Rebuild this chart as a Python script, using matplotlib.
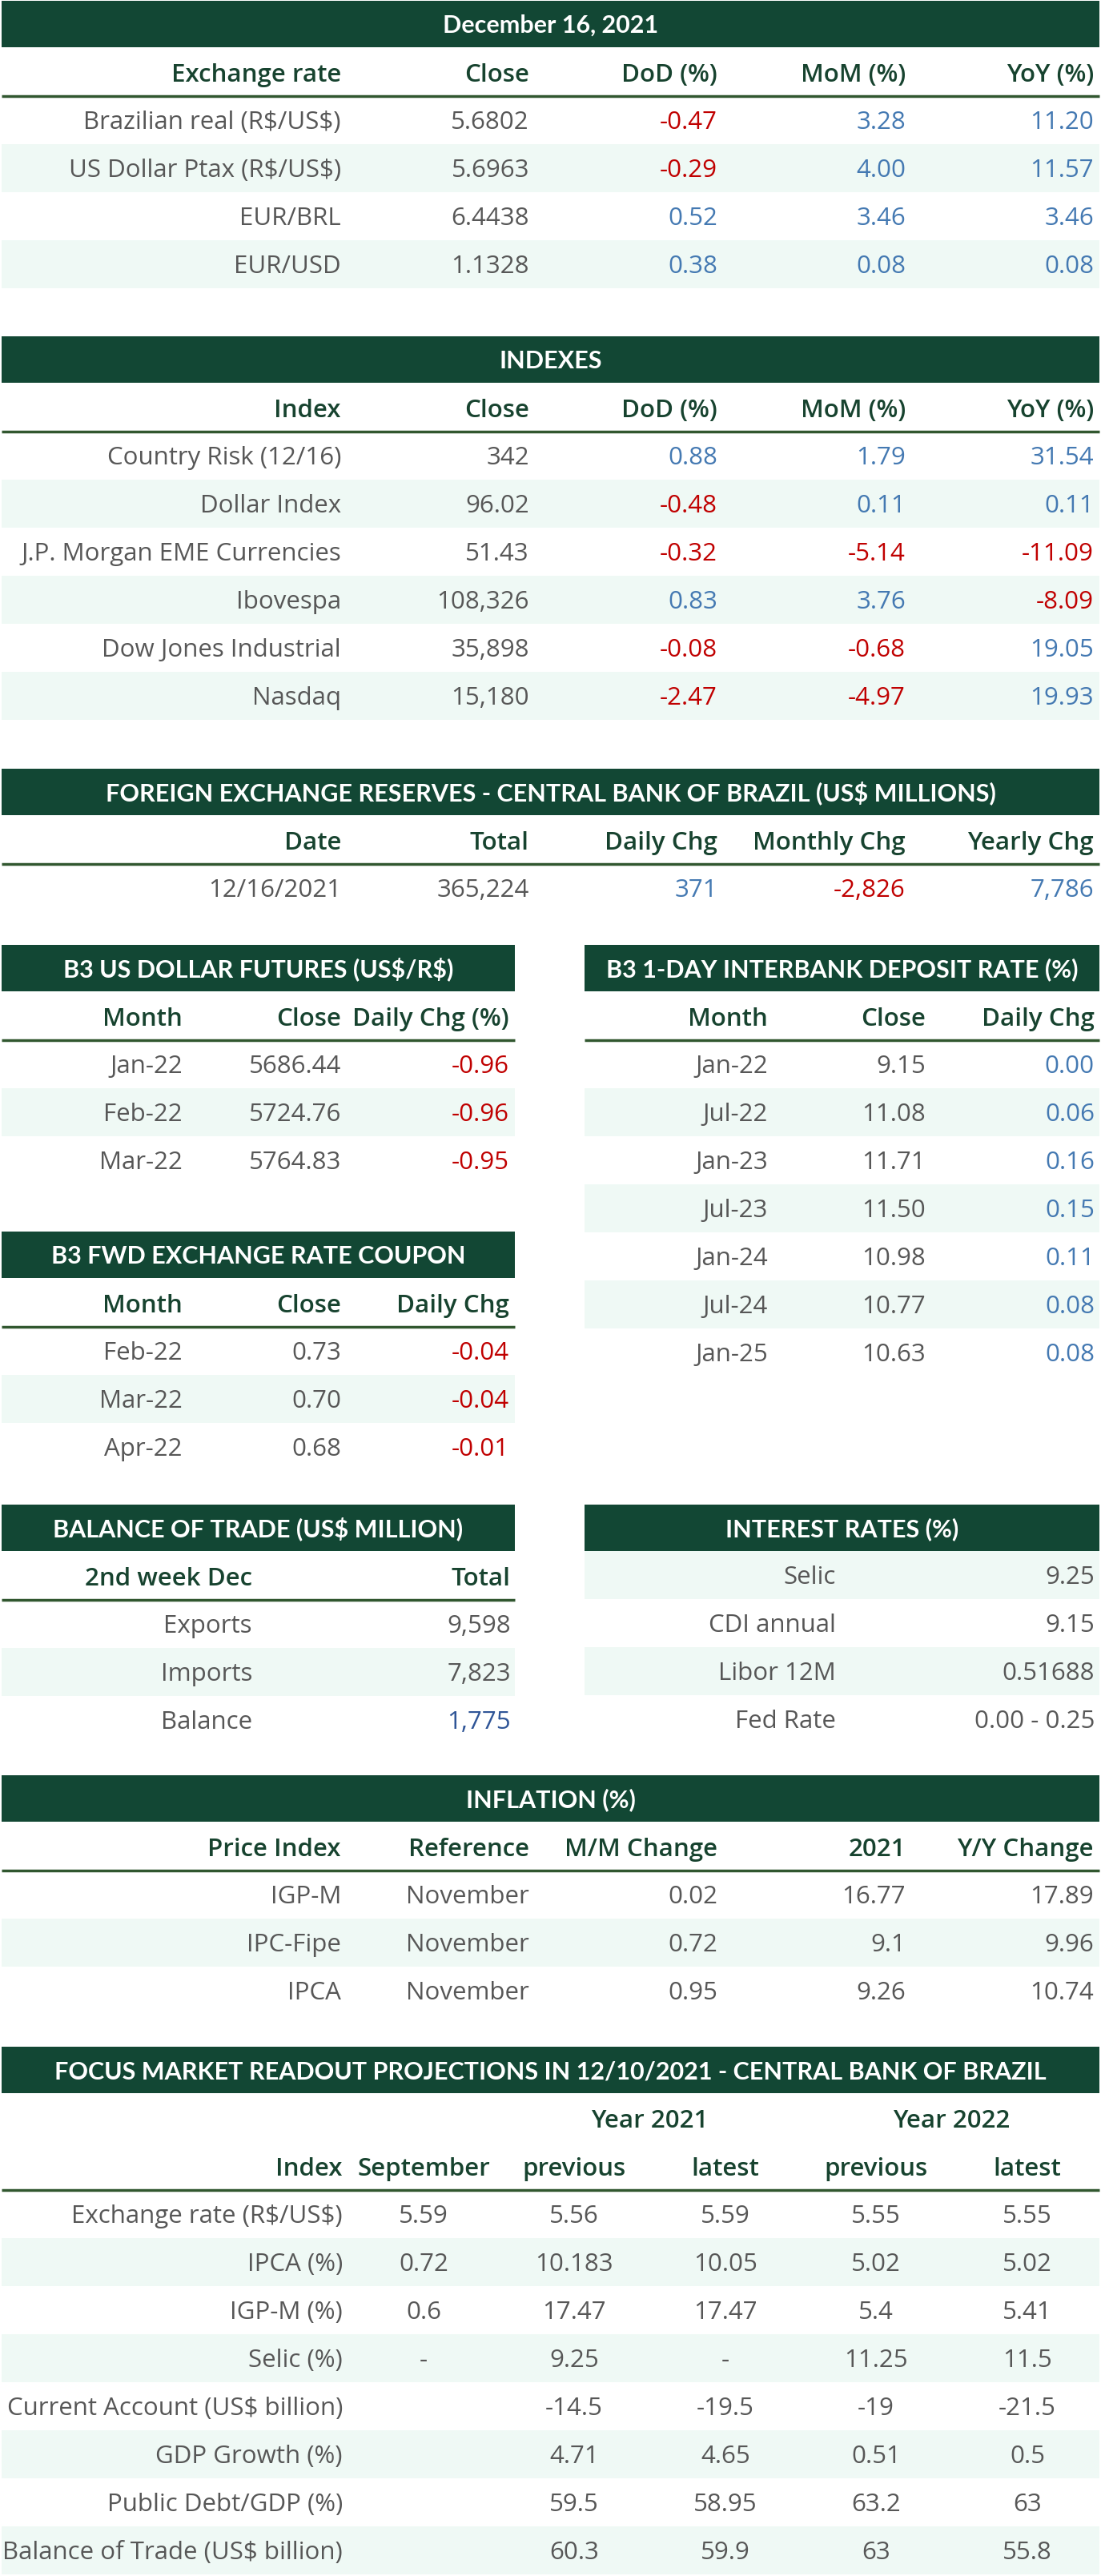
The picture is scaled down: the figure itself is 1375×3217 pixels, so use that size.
import matplotlib
matplotlib.use('Agg')
import matplotlib.pyplot as plt
from matplotlib.patches import Rectangle

# ---- data ----
fx_title = 'December 16, 2021'
fx_headers = ['Exchange rate', 'Close', 'DoD (%)', 'MoM (%)', 'YoY (%)']
fx_names = ['Brazilian real (R$/US$)', 'US Dollar Ptax (R$/US$)', 'EUR/BRL', 'EUR/USD']
fx_close = ['5.6802', '5.6963', '6.4438', '1.1328']
fx_dod = ['-0.47', '-0.29', '0.52', '0.38']
fx_mom = ['3.28', '4.00', '3.46', '0.08']
fx_yoy = ['11.20', '11.57', '3.46', '0.08']

idx_title = 'INDEXES'
idx_headers = ['Index', 'Close', 'DoD (%)', 'MoM (%)', 'YoY (%)']
idx_names = ['Country Risk (12/16)', 'Dollar Index', 'J.P. Morgan EME Currencies',
             'Ibovespa', 'Dow Jones Industrial', 'Nasdaq']
idx_close = ['342', '96.02', '51.43', '108,326', '35,898', '15,180']
idx_dod = ['0.88', '-0.48', '-0.32', '0.83', '-0.08', '-2.47']
idx_mom = ['1.79', '0.11', '-5.14', '3.76', '-0.68', '-4.97']
idx_yoy = ['31.54', '0.11', '-11.09', '-8.09', '19.05', '19.93']

res_title = 'FOREIGN EXCHANGE RESERVES - CENTRAL BANK OF BRAZIL (US$ MILLIONS)'
res_headers = ['Date', 'Total', 'Daily Chg', 'Monthly Chg', 'Yearly Chg']
res_date = ['12/16/2021']
res_total = ['365,224']
res_daily = ['371']
res_monthly = ['-2,826']
res_yearly = ['7,786']

fut_title = 'B3 US DOLLAR FUTURES (US$/R$)'
fut_headers = ['Month', 'Close', 'Daily Chg (%)']
fut_month = ['Jan-22', 'Feb-22', 'Mar-22']
fut_close = ['5686.44', '5724.76', '5764.83']
fut_chg = ['-0.96', '-0.96', '-0.95']

di_title = 'B3 1-DAY INTERBANK DEPOSIT RATE (%)'
di_headers = ['Month', 'Close', 'Daily Chg']
di_month = ['Jan-22', 'Jul-22', 'Jan-23', 'Jul-23', 'Jan-24', 'Jul-24', 'Jan-25']
di_close = ['9.15', '11.08', '11.71', '11.50', '10.98', '10.77', '10.63']
di_chg = ['0.00', '0.06', '0.16', '0.15', '0.11', '0.08', '0.08']

cp_title = 'B3 FWD EXCHANGE RATE COUPON'
cp_headers = ['Month', 'Close', 'Daily Chg']
cp_month = ['Feb-22', 'Mar-22', 'Apr-22']
cp_close = ['0.73', '0.70', '0.68']
cp_chg = ['-0.04', '-0.04', '-0.01']

bt_title = 'BALANCE OF TRADE (US$ MILLION)'
bt_headers = ['2nd week Dec', 'Total']
bt_names = ['Exports', 'Imports', 'Balance']
bt_total = ['9,598', '7,823', '1,775']

ir_title = 'INTEREST RATES (%)'
ir_names = ['Selic', 'CDI annual', 'Libor 12M', 'Fed Rate']
ir_values = ['9.25', '9.15', '0.51688', '0.00 - 0.25']

inf_title = 'INFLATION (%)'
inf_headers = ['Price Index', 'Reference', 'M/M Change', '2021', 'Y/Y Change']
inf_names = ['IGP-M', 'IPC-Fipe', 'IPCA']
inf_ref = ['November', 'November', 'November']
inf_mm = ['0.02', '0.72', '0.95']
inf_year = ['16.77', '9.1', '9.26']
inf_yy = ['17.89', '9.96', '10.74']

fo_title = 'FOCUS MARKET READOUT PROJECTIONS IN 12/10/2021 - CENTRAL BANK OF BRAZIL'
fo_years = ['Year 2021', 'Year 2022']
fo_headers = ['Index', 'September', 'previous', 'latest', 'previous', 'latest']
fo_names = ['Exchange rate (R$/US$)', 'IPCA (%)', 'IGP-M (%)', 'Selic (%)',
            'Current Account (US$ billion)', 'GDP Growth (%)', 'Public Debt/GDP (%)',
            'Balance of Trade (US$ billion)']
fo_sep = ['5.59', '0.72', '0.6', '-', '', '', '', '']
fo_prev21 = ['5.56', '10.183', '17.47', '9.25', '-14.5', '4.71', '59.5', '60.3']
fo_last21 = ['5.59', '10.05', '17.47', '-', '-19.5', '4.65', '58.95', '59.9']
fo_prev22 = ['5.55', '5.02', '5.4', '11.25', '-19', '0.51', '63.2', '63']
fo_last22 = ['5.55', '5.02', '5.41', '11.5', '-21.5', '0.5', '63', '55.8']

# ---- style ----
DARK = '#124734'
RULE = '#31572f'
STRIPE = '#eff9f5'
HEAD = '#17432f'
GRAY = '#575757'
BLUE = '#4479b2'
BLUE2 = '#2f5597'
RED = '#c00000'
FS = 22.5
TFS = 22
BODY_FONT = ['Open Sans', 'DejaVu Sans']
TITLE_FONT = ['Lato', 'DejaVu Sans']
BASE = 11          # half cap height in px, to centre text on a row
BAR_H = 58
HEAD_H = 61
ROW_H = 60

plt.rcParams['font.family'] = BODY_FONT
plt.rcParams['text.parse_math'] = False

W, H = 1375, 3217
fig = plt.figure(figsize=(W / 100, H / 100), dpi=100)
ax = fig.add_axes([0, 0, 1, 1])
ax.set_xlim(0, W)
ax.set_ylim(H, 0)
ax.axis('off')


def put(x, yc, s, color, ha='right', weight='normal', size=FS, family=BODY_FONT):
    ax.text(x, yc + BASE, s, color=color, fontsize=size, ha=ha, va='baseline',
            fontweight=weight, family=family)


def title_bar(x0, x1, top, text):
    ax.add_patch(Rectangle((x0, top), x1 - x0, BAR_H, facecolor=DARK, edgecolor='none'))
    put((x0 + x1) / 2, top + BAR_H / 2, text, 'white', ha='center', weight='bold',
        size=TFS, family=TITLE_FONT)
    return top + BAR_H


def header_row(x0, x1, y, xs, labels, aligns):
    for x, lab, a in zip(xs, labels, aligns):
        put(x, y + HEAD_H - 29, lab, HEAD, ha=a, weight='semibold')
    ax.plot([x0, x1], [y + HEAD_H, y + HEAD_H], color=RULE, lw=2.5, solid_capstyle='butt')
    return y + HEAD_H


def body(x0, x1, y, xs, columns, colors, aligns, stripe=1):
    for i in range(len(columns[0])):
        top = y + i * ROW_H
        if i % 2 == stripe:
            ax.add_patch(Rectangle((x0, top), x1 - x0, ROW_H, facecolor=STRIPE,
                                   edgecolor='none', zorder=0))
        for x, col, cc, a in zip(xs, columns, colors, aligns):
            put(x, top + ROW_H / 2, col[i], cc[i], ha=a)


def gray(col):
    return [GRAY] * len(col)


def signed(col):
    return [RED if v.startswith('-') else BLUE for v in col]


FULL = (2, 1373)
LEFT = (2, 643)
RIGHT = (730, 1373)
X5 = [426, 661, 896, 1131, 1366]
R5 = ['right'] * 5

# exchange rate
y = title_bar(*FULL, 1, fx_title)
y = header_row(*FULL, y, X5, fx_headers, R5)
body(*FULL, y, X5, [fx_names, fx_close, fx_dod, fx_mom, fx_yoy],
     [gray(fx_names), gray(fx_close), signed(fx_dod), signed(fx_mom), signed(fx_yoy)], R5)

# indexes
y = title_bar(*FULL, 420, idx_title)
y = header_row(*FULL, y, X5, idx_headers, R5)
body(*FULL, y, X5, [idx_names, idx_close, idx_dod, idx_mom, idx_yoy],
     [gray(idx_names), gray(idx_close), signed(idx_dod), signed(idx_mom), signed(idx_yoy)], R5)

# reserves
y = title_bar(*FULL, 960, res_title)
y = header_row(*FULL, y, X5, res_headers, R5)
body(*FULL, y, X5, [res_date, res_total, res_daily, res_monthly, res_yearly],
     [gray(res_date), gray(res_total), signed(res_daily), signed(res_monthly),
      signed(res_yearly)], R5)

# futures (left) and DI (right)
XL3 = [228, 426, 636]
XR3 = [959, 1156, 1367]
R3 = ['right'] * 3
y = title_bar(*LEFT, 1180, fut_title)
y = header_row(*LEFT, y, XL3, fut_headers, R3)
body(*LEFT, y, XL3, [fut_month, fut_close, fut_chg],
     [gray(fut_month), gray(fut_close), signed(fut_chg)], R3)

y = title_bar(*RIGHT, 1180, di_title)
y = header_row(*RIGHT, y, XR3, di_headers, R3)
body(*RIGHT, y, XR3, [di_month, di_close, di_chg],
     [gray(di_month), gray(di_close), signed(di_chg)], R3)

# coupon
y = title_bar(*LEFT, 1538, cp_title)
y = header_row(*LEFT, y, XL3, cp_headers, R3)
body(*LEFT, y, XL3, [cp_month, cp_close, cp_chg],
     [gray(cp_month), gray(cp_close), signed(cp_chg)], R3)

# balance of trade (left) and interest rates (right)
XL2 = [315, 638]
XR2 = [1044, 1367]
R2 = ['right'] * 2
y = title_bar(*LEFT, 1879, bt_title)
y = header_row(*LEFT, y, XL2, bt_headers, R2)
bt_colors = [GRAY] * (len(bt_total) - 1) + [BLUE2]
body(*LEFT, y, XL2, [bt_names, bt_total], [gray(bt_names), bt_colors], R2)

y = title_bar(*RIGHT, 1879, ir_title)
body(*RIGHT, y, XR2, [ir_names, ir_values], [gray(ir_names), gray(ir_values)], R2, stripe=0)

# inflation
y = title_bar(*FULL, 2217, inf_title)
y = header_row(*FULL, y, X5, inf_headers, R5)
inf_cols = [inf_names, inf_ref, inf_mm, inf_year, inf_yy]
body(*FULL, y, X5, inf_cols, [gray(c) for c in inf_cols], R5)

# focus
X6 = [428, 529, 717, 906, 1094, 1283]
A6 = ['right'] + ['center'] * 5
y = title_bar(*FULL, 2556, fo_title)
for xc, lab in zip([811, 1188], fo_years):
    put(xc, y + ROW_H / 2 + 2, lab, HEAD, ha='center', weight='semibold')
y = y + ROW_H
y = header_row(*FULL, y, X6, fo_headers, A6)
fo_cols = [fo_names, fo_sep, fo_prev21, fo_last21, fo_prev22, fo_last22]
body(*FULL, y, X6, fo_cols, [gray(c) for c in fo_cols], A6)

fig.savefig('out.png', dpi=100, facecolor='white')
